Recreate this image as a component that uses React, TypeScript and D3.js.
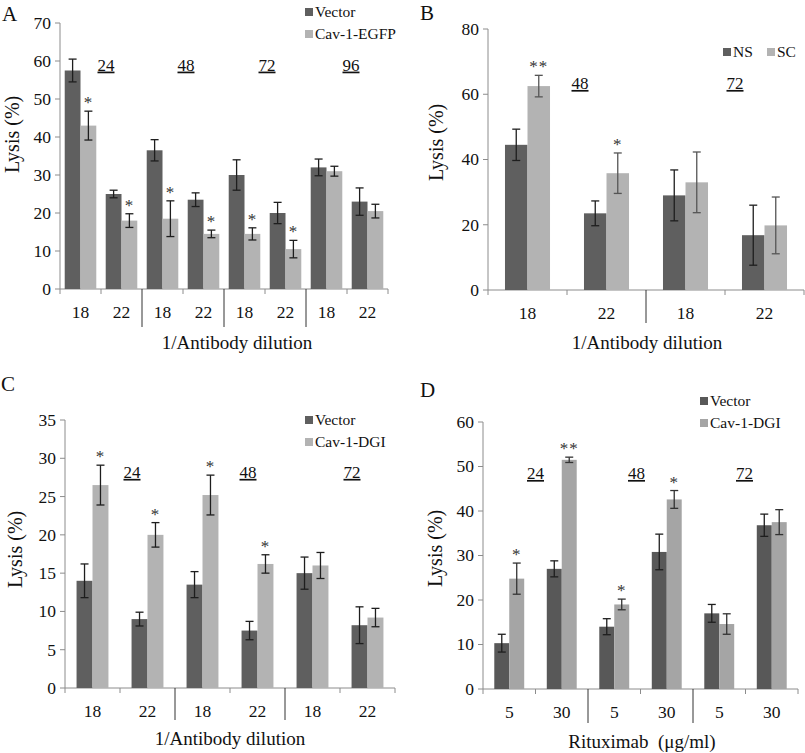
import React from "react";
import * as d3 from "d3";

// ---------- Panel A ----------
const aCats = ["18", "22", "18", "22", "18", "22", "18", "22"];
const aVector = [57.5, 25, 36.5, 23.5, 30, 20, 32, 23];
const aVectorErr = [3, 1, 2.8, 1.8, 4, 2.8, 2.2, 3.6];
const aCav = [43, 18, 18.5, 14.5, 14.5, 10.5, 31, 20.5];
const aCavErr = [3.8, 1.8, 4.7, 1, 1.6, 2.3, 1.3, 1.8];
const aCavStars = ["*", "*", "*", "*", "*", "*", "", ""];
const aTimes = ["24", "48", "72", "96"];
const aSeries = ["Vector", "Cav-1-EGFP"];

// ---------- Panel B ----------
const bCats = ["18", "22", "18", "22"];
const bNS = [44.5, 23.5, 29, 16.8];
const bNSErr = [4.8, 3.8, 7.8, 9.2];
const bSC = [62.5, 35.8, 33, 19.8];
const bSCErr = [3.3, 6.2, 9.3, 8.7];
const bSCStars = ["**", "*", "", ""];
const bTimes = ["48", "72"];
const bSeries = ["NS", "SC"];

// ---------- Panel C ----------
const cCats = ["18", "22", "18", "22", "18", "22"];
const cVector = [14, 9, 13.5, 7.5, 15, 8.2];
const cVectorErr = [2.2, 0.9, 1.7, 1.2, 2.1, 2.4];
const cDGI = [26.5, 20, 25.2, 16.2, 16, 9.2];
const cDGIErr = [2.6, 1.6, 2.6, 1.2, 1.7, 1.2];
const cDGIStars = ["*", "*", "*", "*", "", ""];
const cTimes = ["24", "48", "72"];
const cSeries = ["Vector", "Cav-1-DGI"];

// ---------- Panel D ----------
const dCats = ["5", "30", "5", "30", "5", "30"];
const dVector = [10.3, 27, 14, 30.8, 17, 36.8];
const dVectorErr = [2, 1.8, 1.8, 4, 2, 2.5];
const dDGI = [24.8, 51.5, 19, 42.6, 14.6, 37.5];
const dDGIErr = [3.5, 0.6, 1.2, 2, 2.3, 2.8];
const dDGIStars = ["*", "**", "*", "*", "", ""];
const dTimes = ["24", "48", "72"];
const dSeries = ["Vector", "Cav-1-DGI"];

const FONT = "'Liberation Serif', 'Times New Roman', serif";

type PanelProps = {
  letter: string;
  letterPos: [number, number];
  cats: string[];
  s1: number[];
  e1: number[];
  s2: number[];
  e2: number[];
  stars2: string[];
  seriesNames: string[];
  times: string[];
  timeDx: number[];
  timeY: number;
  yMax: number;
  yStep: number;
  x0: number;
  x1: number;
  yTop: number;
  yBot: number;
  barFrac: number;
  sepLen: number;
  xTitle: string;
  xTitleX: number;
  xTitleY: number;
  yTitleX: number;
  yTitleY: number;
  legend: "vertical" | "horizontal";
  legendX: number;
  legendY: number;
  dark: string;
  light: string;
  err2Color: string;
};

function Panel(p: PanelProps) {
  const x = d3
    .scaleBand<number>()
    .domain(p.cats.map((_, i) => i))
    .range([p.x0, p.x1])
    .paddingInner(0)
    .paddingOuter(0);
  const y = d3.scaleLinear().domain([0, p.yMax]).range([p.yBot, p.yTop]);
  const ticks = d3.range(0, p.yMax + 0.001, p.yStep);
  const bw = x.bandwidth() * p.barFrac;
  const cap = 4;
  const axisColor = "#8c8c8c";

  const errBar = (cx: number, v: number, e: number, color: string, key: string) => (
    <g key={key} stroke={color} strokeWidth={1.3}>
      <line x1={cx} x2={cx} y1={y(v + e)} y2={y(v - e)} />
      <line x1={cx - cap} x2={cx + cap} y1={y(v + e)} y2={y(v + e)} />
      <line x1={cx - cap} x2={cx + cap} y1={y(v - e)} y2={y(v - e)} />
    </g>
  );

  return (
    <g fontFamily={FONT} fill="#111">
      <text x={p.letterPos[0]} y={p.letterPos[1]} fontSize={21}>
        {p.letter}
      </text>
      {/* y axis */}
      <line x1={p.x0} x2={p.x0} y1={y(p.yMax)} y2={y(0)} stroke={axisColor} />
      {ticks.map((t) => (
        <g key={"yt" + t}>
          <line x1={p.x0 - 5} x2={p.x0} y1={y(t)} y2={y(t)} stroke={axisColor} />
          <text x={p.x0 - 9} y={y(t)} dy="0.34em" textAnchor="end" fontSize={17.5}>
            {t}
          </text>
        </g>
      ))}
      {/* x axis */}
      <line x1={p.x0} x2={p.x1} y1={y(0)} y2={y(0)} stroke={axisColor} />
      {d3.range(p.cats.length + 1).map((i) => {
        const xx = i < p.cats.length ? (x(i) as number) : p.x1;
        const isSep = i > 0 && i < p.cats.length && i % 2 === 0;
        return (
          <line
            key={"xt" + i}
            x1={xx}
            x2={xx}
            y1={y(0)}
            y2={y(0) + (isSep ? p.sepLen : 5)}
            stroke={isSep ? "#333" : axisColor}
          />
        );
      })}
      {p.cats.map((c, i) => (
        <text
          key={"xl" + i}
          x={(x(i) as number) + x.bandwidth() / 2}
          y={y(0) + 29}
          textAnchor="middle"
          fontSize={17.5}
        >
          {c}
        </text>
      ))}
      {/* bars */}
      {p.cats.map((_, i) => {
        const cx = (x(i) as number) + x.bandwidth() / 2;
        return (
          <g key={"b" + i}>
            <rect x={cx - bw} y={y(p.s1[i])} width={bw} height={y(0) - y(p.s1[i])} fill={p.dark} />
            <rect x={cx} y={y(p.s2[i])} width={bw} height={y(0) - y(p.s2[i])} fill={p.light} />
            {errBar(cx - bw / 2, p.s1[i], p.e1[i], "#1e1e1e", "e1")}
            {errBar(cx + bw / 2, p.s2[i], p.e2[i], p.err2Color, "e2")}
            {p.stars2[i] ? (
              <text
                x={cx + bw / 2}
                y={y(p.s2[i] + p.e2[i]) - 3}
                textAnchor="middle"
                fontSize={17}
                fill="#333"
                letterSpacing={1}
              >
                {p.stars2[i]}
              </text>
            ) : null}
          </g>
        );
      })}
      {/* time labels */}
      {p.times.map((t, g) => (
        <text
          key={"t" + g}
          x={(x(g * 2 + 1) as number) + p.timeDx[g]}
          y={y(p.timeY)}
          dy="0.34em"
          textAnchor="middle"
          fontSize={17}
          style={{ textDecoration: "underline" }}
        >
          {t}
        </text>
      ))}
      {/* legend */}
      {p.legend === "vertical" ? (
        <g fontSize={15.5}>
          <rect x={p.legendX} y={p.legendY - 9} width={8} height={8} fill={p.dark} />
          <text x={p.legendX + 10} y={p.legendY}>
            {p.seriesNames[0]}
          </text>
          <rect x={p.legendX} y={p.legendY + 22 - 9} width={8} height={8} fill={p.light} />
          <text x={p.legendX + 10} y={p.legendY + 22}>
            {p.seriesNames[1]}
          </text>
        </g>
      ) : (
        <g fontSize={15.5}>
          <rect x={p.legendX} y={p.legendY - 9} width={8} height={8} fill={p.dark} />
          <text x={p.legendX + 10} y={p.legendY}>
            {p.seriesNames[0]}
          </text>
          <rect x={p.legendX + 44} y={p.legendY - 9} width={8} height={8} fill={p.light} />
          <text x={p.legendX + 54} y={p.legendY}>
            {p.seriesNames[1]}
          </text>
        </g>
      )}
      {/* axis titles */}
      <text x={p.xTitleX} y={p.xTitleY} textAnchor="middle" fontSize={19}>
        {p.xTitle}
      </text>
      <text
        transform={`translate(${p.yTitleX},${p.yTitleY}) rotate(-90)`}
        textAnchor="start"
        fontSize={20}
      >
        Lysis (%)
      </text>
    </g>
  );
}

export default function App() {
  return (
    <svg
      width={805}
      height={753}
      style={{ position: "absolute", left: 0, top: 0, background: "#fff" }}
    >
      <rect width={805} height={753} fill="#fff" />
      <Panel
        letter="A"
        letterPos={[2, 21]}
        cats={aCats}
        s1={aVector}
        e1={aVectorErr}
        s2={aCav}
        e2={aCavErr}
        stars2={aCavStars}
        seriesNames={aSeries}
        times={aTimes}
        timeDx={[5, 3, 2, 4]}
        timeY={59}
        yMax={70}
        yStep={10}
        x0={60}
        x1={388}
        yTop={23}
        yBot={289}
        barFrac={0.385}
        sepLen={38}
        xTitle="1/Antibody dilution"
        xTitleX={237}
        xTitleY={349}
        yTitleX={19}
        yTitleY={173}
        legend="vertical"
        legendX={305}
        legendY={17}
        dark="#5f5f5f"
        light="#b3b3b3"
        err2Color="#1e1e1e"
      />
      <Panel
        letter="B"
        letterPos={[420, 20]}
        cats={bCats}
        s1={bNS}
        e1={bNSErr}
        s2={bSC}
        e2={bSCErr}
        stars2={bSCStars}
        seriesNames={bSeries}
        times={bTimes}
        timeDx={[13, 10]}
        timeY={63.4}
        yMax={80}
        yStep={20}
        x0={488}
        x1={804}
        yTop={29}
        yBot={290}
        barFrac={0.285}
        sepLen={33}
        xTitle="1/Antibody dilution"
        xTitleX={647}
        xTitleY={349}
        yTitleX={443}
        yTitleY={181}
        legend="horizontal"
        legendX={723}
        legendY={57}
        dark="#5f5f5f"
        light="#b3b3b3"
        err2Color="#555"
      />
      <Panel
        letter="C"
        letterPos={[1, 391]}
        cats={cCats}
        s1={cVector}
        e1={cVectorErr}
        s2={cDGI}
        e2={cDGIErr}
        stars2={cDGIStars}
        seriesNames={cSeries}
        times={cTimes}
        timeDx={[12, 18, 12]}
        timeY={28.2}
        yMax={35}
        yStep={5}
        x0={65}
        x1={395}
        yTop={420}
        yBot={688}
        barFrac={0.29}
        sepLen={32}
        xTitle="1/Antibody dilution"
        xTitleX={230}
        xTitleY={745}
        yTitleX={22}
        yTitleY={588}
        legend="vertical"
        legendX={305}
        legendY={425}
        dark="#5f5f5f"
        light="#b3b3b3"
        err2Color="#1e1e1e"
      />
      <Panel
        letter="D"
        letterPos={[420, 397]}
        cats={dCats}
        s1={dVector}
        e1={dVectorErr}
        s2={dDGI}
        e2={dDGIErr}
        stars2={dDGIStars}
        seriesNames={dSeries}
        times={dTimes}
        timeDx={[0, -4, -1]}
        timeY={48.5}
        yMax={60}
        yStep={10}
        x0={483}
        x1={798}
        yTop={422}
        yBot={689}
        barFrac={0.285}
        sepLen={34}
        xTitle={"Rituximab\u00a0 (μg/ml)"}
        xTitleX={642}
        xTitleY={748}
        yTitleX={442}
        yTitleY={587}
        legend="vertical"
        legendX={700}
        legendY={406}
        dark="#585858"
        light="#a5a5a5"
        err2Color="#333"
      />
    </svg>
  );
}
